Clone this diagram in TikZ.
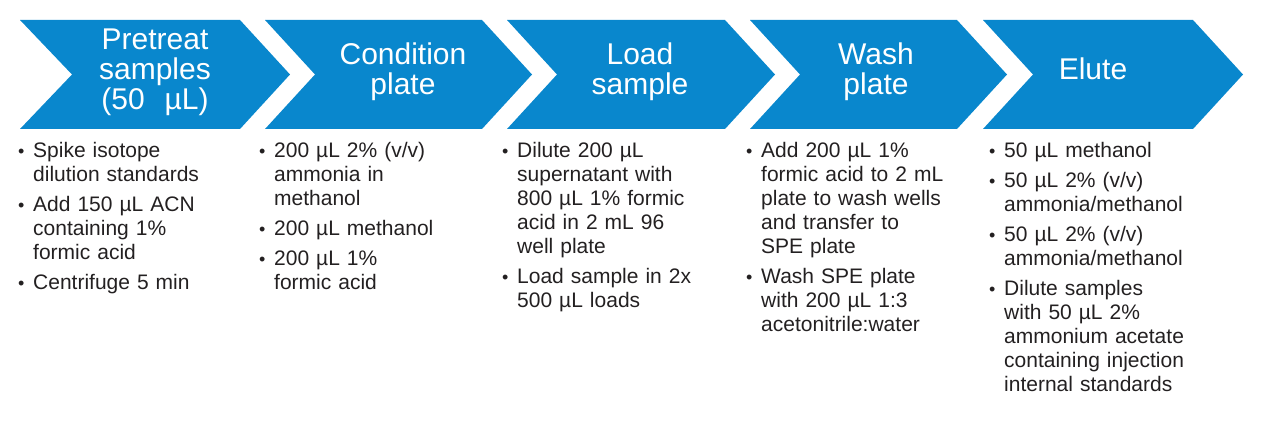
\documentclass[tikz,border=0pt]{standalone}
\usepackage{fontspec}
\setmainfont{Liberation Sans}
\definecolor{chev}{RGB}{9,135,205}
\definecolor{txt}{RGB}{35,32,33}
\newcommand{\bulmark}{\makebox[15pt][l]{{\fontsize{18}{18}\selectfont •}}}
\newcommand{\nl}{\newline}
\newcommand{\itm}[1]{\hangindent=15pt\hangafter=1\noindent\bulmark #1\par}
\newcommand{\colsetup}{\parskip=6pt\relax\parindent=0pt\relax\raggedright}
\tikzset{
  chevron/.style={fill=chev, draw=none},
  title/.style={text=white, font=\fontsize{30}{30}\selectfont, text width=260pt, align=center, anchor=base, inner sep=0pt},
  steps/.style={text=txt, font=\fontsize{21}{24}\selectfont, text width=250pt, anchor=base west, inner sep=0pt}
}
\begin{document}
\begin{tikzpicture}[x=1pt,y=-1pt]
\useasboundingbox (0,0) rectangle (1280,427);
% chevrons
\fill[chevron] (20,20) -- (240,20) -- (290,74.5) -- (240,129) -- (20,129) -- (72,74.5) -- cycle;
\fill[chevron] (265,20) -- (482,20) -- (532,74.5) -- (482,129) -- (265,129) -- (315,74.5) -- cycle;
\fill[chevron] (507,20) -- (725,20) -- (775,74.5) -- (725,129) -- (507,129) -- (557,74.5) -- cycle;
\fill[chevron] (750,20) -- (957,20) -- (1007,74.5) -- (957,129) -- (750,129) -- (800,74.5) -- cycle;
\fill[chevron] (983,20) -- (1193,20) -- (1243,74.5) -- (1193,129) -- (983,129) -- (1033,74.5) -- cycle;
% titles
\node[title] (t1) at (155,50) {Pretreat\\samples\\(50\ \ µL)};
\node[title] (t2) at (403,65) {Condition\\plate};
\node[title] (t3) at (640,65) {Load\\sample};
\node[title] (t4) at (876,65) {Wash\\plate};
\node[title] (t5) at (1093,80) {Elute};
% step lists
\node[steps] (s1) at (18,158) {\colsetup%
\itm{Spike isotope\nl dilution standards}%
\itm{Add 150 µL ACN\nl containing 1\%\nl formic acid}%
\itm{Centrifuge 5 min}};
\node[steps] (s2) at (259,158) {\colsetup%
\itm{200 µL 2\% (v/v)\nl ammonia in\nl methanol}%
\itm{200 µL methanol}%
\itm{200 µL 1\%\nl formic acid}};
\node[steps] (s3) at (502,158) {\colsetup%
\itm{Dilute 200 µL\nl supernatant with\nl 800 µL 1\% formic\nl acid in 2 mL 96\nl well plate}%
\itm{Load sample in 2x\nl 500 µL loads}};
\node[steps] (s4) at (746,158) {\colsetup%
\itm{Add 200 µL 1\%\nl formic acid to 2 mL\nl plate to wash wells\nl and transfer to\nl SPE plate}%
\itm{Wash SPE plate\nl with 200 µL 1:3\nl acetonitrile:water}};
\node[steps] (s5) at (989,158) {\colsetup%
\itm{50 µL methanol}%
\itm{50 µL 2\% (v/v)\nl ammonia/methanol}%
\itm{50 µL 2\% (v/v)\nl ammonia/methanol}%
\itm{Dilute samples\nl with 50 µL 2\%\nl ammonium acetate\nl containing injection\nl internal standards}};
\end{tikzpicture}
\end{document}
